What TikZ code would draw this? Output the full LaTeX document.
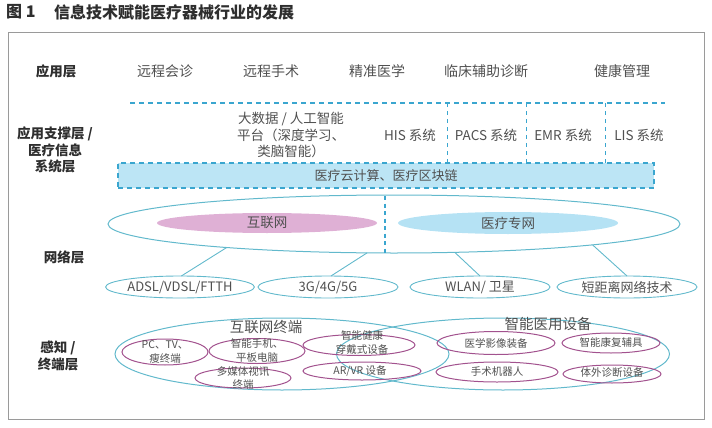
\documentclass[tikz,border=0pt]{standalone}
\usepackage{fontspec}
\setmainfont{Noto Sans CJK SC}
\usetikzlibrary{shapes.geometric}
\definecolor{frame}{HTML}{9A9A9A}
\definecolor{txt}{HTML}{505050}
\definecolor{lbl}{HTML}{2E2E2E}
\definecolor{cyanline}{HTML}{3AA6CF}
\definecolor{tealline}{HTML}{62B9CC}
\definecolor{cloudfill}{HTML}{BCE5F5}
\definecolor{pinkfill}{HTML}{DFB0D5}
\definecolor{bluefill}{HTML}{B5E2F4}
\definecolor{purp}{HTML}{A2528E}
\tikzset{
  rowlbl/.style={text=lbl, font=\fontsize{13.5}{16.5}\selectfont\bfseries, align=center, inner sep=0pt},
  appitem/.style={text=txt, font=\fontsize{14}{16}\selectfont, inner sep=0pt},
  sysitem/.style={text=txt, font=\fontsize{13.5}{16.5}\selectfont, align=center, inner sep=0pt},
  dashc/.style={draw=cyanline, line width=1.3pt, dash pattern=on 5pt off 4pt},
  ell/.style={ellipse, inner sep=0pt, outer sep=0pt},
  netell/.style={ell, draw=tealline, line width=0.9pt, text=txt, font=\fontsize{13}{15}\selectfont},
  termell/.style={ell, draw=purp, line width=1pt},
  bigell/.style={ell, draw=tealline, line width=1pt},
  smalltxt/.style={text=txt, font=\fontsize{10.5}{14}\selectfont, align=center, inner sep=0pt},
  grouptxt/.style={text=txt, font=\fontsize{14.5}{16}\selectfont, inner sep=0pt},
  link/.style={draw=tealline, line width=0.9pt}
}
\begin{document}
\begin{tikzpicture}[x=1pt,y=-1pt]
\useasboundingbox (0,0) rectangle (712,428);
% title
\node[anchor=west, text=lbl, font=\fontsize{16}{18}\selectfont\bfseries, inner sep=0pt] (fig) at (6,12) {图 1};
\node[anchor=west, text=lbl, font=\fontsize{16}{18}\selectfont\bfseries, inner sep=0pt] (title) at (54,12) {信息技术赋能医疗器械行业的发展};
% frame
\draw[frame, line width=1pt] (8,33) rectangle (704,419);

% row labels
\node[rowlbl] (l1) at (56,71) {应用层};
\node[rowlbl] (l2) at (55,150) {应用支撑层 /\\医疗信息\\系统层};
\node[rowlbl] (l3) at (64,257) {网络层};
\node[rowlbl] (l4) at (58,356) {感知 /\\终端层};

% application layer
\node[appitem] (a1) at (165,71) {远程会诊};
\node[appitem] (a2) at (271,71) {远程手术};
\node[appitem] (a3) at (377,71) {精准医学};
\node[appitem] (a4) at (486,71) {临床辅助诊断};
\node[appitem] (a5) at (622,71) {健康管理};

% support layer
\draw[dashc] (130,103) -- (665,103);
\draw[dashc, line width=0.9pt, dash pattern=on 4pt off 4pt] (447,103) -- (447,163);
\draw[dashc, line width=0.9pt, dash pattern=on 4pt off 4pt] (526,103) -- (526,163);
\draw[dashc, line width=0.9pt, dash pattern=on 4pt off 4pt] (605,103) -- (605,163);
\node[sysitem] (s1) at (291,135) {大数据 / 人工智能\\平台（深度学习、\\类脑智能）};
\node[sysitem] (s2) at (410,135) {HIS 系统};
\node[sysitem] (s3) at (486,135) {PACS 系统};
\node[sysitem] (s4) at (563,135) {EMR 系统};
\node[sysitem] (s5) at (639,135) {LIS 系统};
\node[dashc, fill=cloudfill, minimum width=536pt, minimum height=25pt, inner sep=0pt,
      text=txt, font=\fontsize{13}{15}\selectfont] (cloud) at (386,175.5) {医疗云计算、医疗区块链};

% network layer
\node[bigell, minimum width=572pt, minimum height=58pt] (net) at (394,224) {};
\node[ell, fill=pinkfill, minimum width=220pt, minimum height=20pt, text=txt, font=\fontsize{13.5}{15}\selectfont] (inet) at (267,223) {互联网};
\node[ell, fill=bluefill, minimum width=220pt, minimum height=22pt, text=txt, font=\fontsize{13.5}{15}\selectfont] (mnet) at (508,223) {医疗专网};
\draw[dashc, line width=1.1pt, dash pattern=on 4pt off 3.5pt] (385,196) -- (385,253);
\node[netell, minimum width=140pt, minimum height=22pt] (n1) at (180,287) {ADSL/VDSL/FTTH};
\node[netell, minimum width=140pt, minimum height=22pt] (n2) at (328,287) {3G/4G/5G};
\node[netell, minimum width=140pt, minimum height=22pt] (n3) at (480,287) {WLAN/ 卫星};
\node[netell, minimum width=140pt, minimum height=22pt] (n4) at (627,287) {短距离网络技术};
\draw[link] (net.188.3) -- (n1.83);
\draw[link] (net.227) -- (n2.75);
\draw[link] (net.335.3) -- (n3.north);
\draw[link] (net.354.1) -- (n4.north);

% terminal layer
\node[bigell, minimum width=334pt, minimum height=72pt] (tg1) at (282,354) {};
\node[bigell, minimum width=333pt, minimum height=72pt] (tg2) at (503,354) {};
\node[grouptxt] (tg1t) at (266,327) {互联网终端};
\node[grouptxt] (tg2t) at (548,324) {智能医用设备};

\node[termell, minimum width=86pt, minimum height=26pt] (t1) at (165,352) {};
\node[smalltxt] (t1t) at (165,352) {PC、TV、\\瘦终端};
\node[termell, minimum width=96pt, minimum height=25pt] (t2) at (257,351) {};
\node[smalltxt] (t2t) at (257,351) {智能手机、\\平板电脑};
\node[termell, minimum width=96pt, minimum height=20pt] (t3) at (243,378) {};
\node[smalltxt, font=\fontsize{10.5}{13}\selectfont] (t3t) at (243,378.5) {多媒体视讯\\终端};
\node[termell, minimum width=112pt, minimum height=21pt] (t4) at (359,345) {};
\node[smalltxt] (t4t) at (362,342) {智能健康\\穿戴式设备};
\node[termell, minimum width=118pt, minimum height=18pt] (t5) at (362,371) {};
\node[smalltxt] (t5t) at (360,371) {AR/VR 设备};

\node[termell, minimum width=118pt, minimum height=23pt] (m1) at (496,343) {};
\node[smalltxt] (m1t) at (496,343) {医学影像装备};
\node[termell, minimum width=98pt, minimum height=20pt] (m2) at (611,343) {};
\node[smalltxt] (m2t) at (611,342) {智能康复辅具};
\node[termell, minimum width=122pt, minimum height=20pt] (m3) at (497,372) {};
\node[smalltxt] (m3t) at (497,372) {手术机器人};
\node[termell, minimum width=98pt, minimum height=18pt] (m4) at (612,374) {};
\node[smalltxt] (m4t) at (612,373) {体外诊断设备};
\end{tikzpicture}
\end{document}
